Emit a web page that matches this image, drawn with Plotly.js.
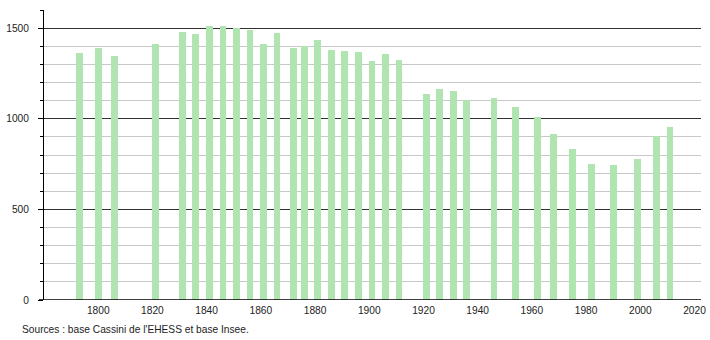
<!DOCTYPE html>
<html>
<head>
<meta charset="utf-8">
<script src="https://cdn.plot.ly/plotly-3.0.1.min.js"></script>
<style>html,body{margin:0;padding:0;background:#fff;}#chart{width:710px;height:340px;}</style>
</head>
<body>
<div id="chart"></div>
<script>
const years = [1793,1800,1806,1821,1831,1836,1841,1846,1851,1856,1861,1866,1872,1876,1881,1886,1891,1896,1901,1906,1911,1921,1926,1931,1936,1946,1954,1962,1968,1975,1982,1990,1999,2006,2011];
const population = [1365,1393,1348,1415,1477,1465,1514,1514,1503,1492,1415,1472,1393,1402,1437,1381,1376,1370,1320,1359,1326,1137,1165,1154,1104,1115,1065,1010,916,833,750,745,777,905,955];
const xTicks = [1800,1820,1840,1860,1880,1900,1920,1940,1960,1980,2000,2020];
const yTicks = [0,500,1000,1500];
const sourceText = "Sources : base Cassini de l'EHESS et base Insee.";

const font = {family: 'Liberation Sans, Arial, sans-serif', size: 10.2, color: '#222'};
Plotly.newPlot('chart', [{
  type: 'bar',
  x: years,
  y: population,
  width: 2.5,
  marker: {color: '#b0e4b0', line: {width: 0}},
  hoverinfo: 'x+y'
}], {
  width: 710, height: 340,
  margin: {l: 44, r: 9, t: 10, b: 40},
  paper_bgcolor: '#fff', plot_bgcolor: '#fff',
  font: font,
  showlegend: false,
  bargap: 0,
  xaxis: {
    range: [1780, 2022.4],
    tickvals: xTicks,
    ticktext: xTicks.map(String),
    showgrid: false, zeroline: false,
    showline: false,
    ticks: '', ticklabelstandoff: 3,
    tickfont: font
  },
  yaxis: {
    range: [0, 1600],
    tickvals: yTicks,
    ticktext: yTicks.map(String),
    showgrid: true, gridcolor: '#333', gridwidth: 1,
    zeroline: false,
    showline: true, linecolor: '#000', linewidth: 1,
    ticks: 'outside', ticklen: 5, tickcolor: '#000', tickwidth: 1,
    ticklabelstandoff: 7,
    tickfont: font
    ,
    minor: {dtick: 100, showgrid: true, gridcolor: '#c8c8c8', gridwidth: 1, ticks: 'outside', ticklen: 3, tickcolor: '#000'}
  },
  shapes: [{
    type: 'line', xref: 'paper', yref: 'y', x0: -5/657, x1: 1, y0: 0, y1: 0,
    line: {color: '#000', width: 1.5}, layer: 'above'
  }],
  annotations: [{
    text: sourceText, xref: 'paper', yref: 'paper', x: -24/657, y: -29/290,
    xanchor: 'left', yanchor: 'middle', showarrow: false, font: font
  }]
}, {staticPlot: true});
</script>
</body>
</html>
